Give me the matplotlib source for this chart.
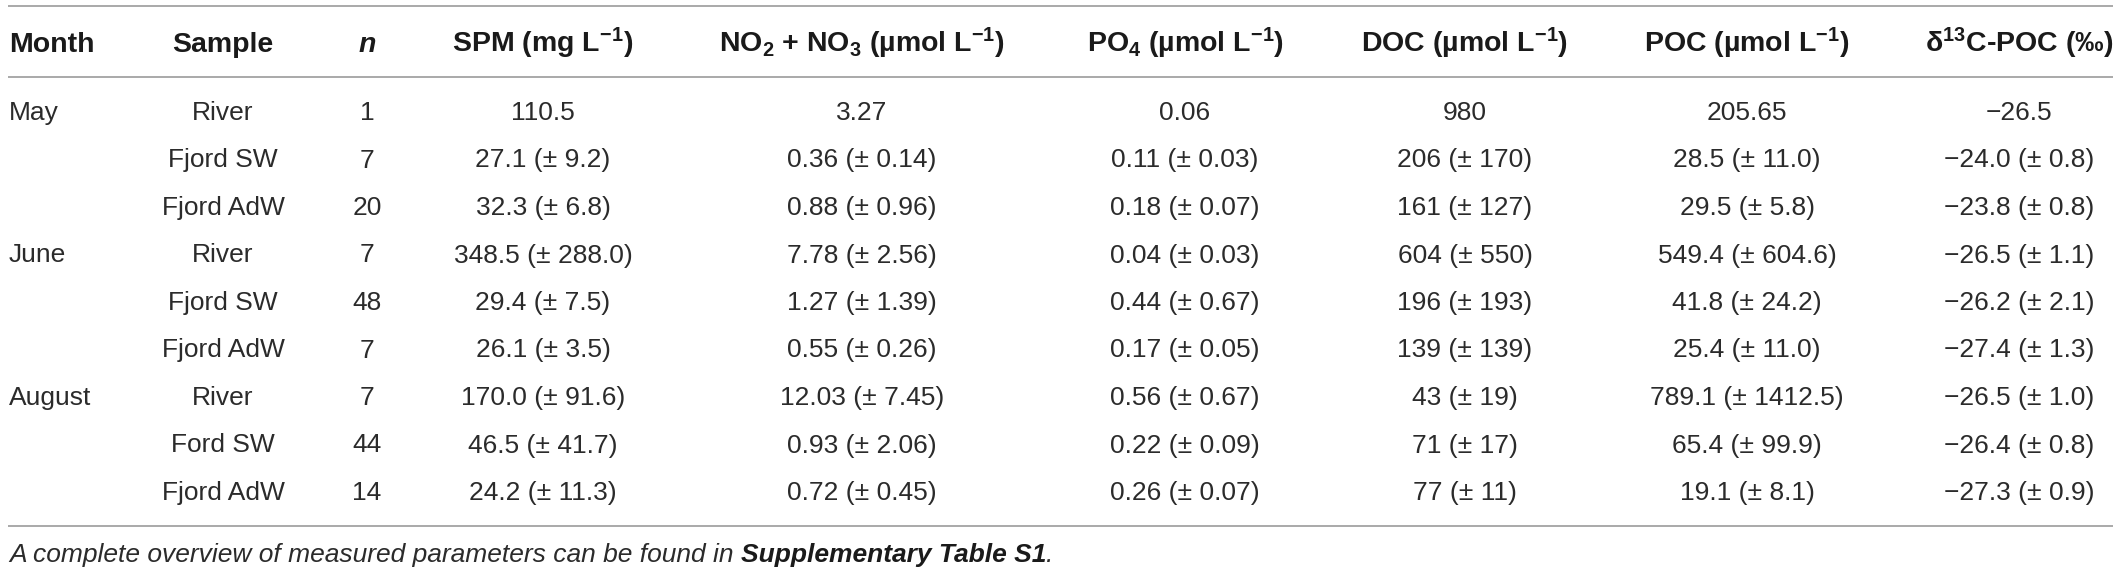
import matplotlib
matplotlib.use("Agg")
import matplotlib.pyplot as plt

# =====================
# Table data
# =====================

months = ["May", "", "", "June", "", "", "August", "", ""]
samples = ["River", "Fjord SW", "Fjord AdW", "River", "Fjord SW", "Fjord AdW",
           "River", "Ford SW", "Fjord AdW"]
n_vals = [1, 7, 20, 7, 48, 7, 7, 44, 14]
spm = ["110.5", "27.1 (± 9.2)", "32.3 (± 6.8)", "348.5 (± 288.0)", "29.4 (± 7.5)",
       "26.1 (± 3.5)", "170.0 (± 91.6)", "46.5 (± 41.7)", "24.2 (± 11.3)"]
nox = ["3.27", "0.36 (± 0.14)", "0.88 (± 0.96)", "7.78 (± 2.56)", "1.27 (± 1.39)",
       "0.55 (± 0.26)", "12.03 (± 7.45)", "0.93 (± 2.06)", "0.72 (± 0.45)"]
po4 = ["0.06", "0.11 (± 0.03)", "0.18 (± 0.07)", "0.04 (± 0.03)", "0.44 (± 0.67)",
       "0.17 (± 0.05)", "0.56 (± 0.67)", "0.22 (± 0.09)", "0.26 (± 0.07)"]
doc = ["980", "206 (± 170)", "161 (± 127)", "604 (± 550)", "196 (± 193)",
       "139 (± 139)", "43 (± 19)", "71 (± 17)", "77 (± 11)"]
poc = ["205.65", "28.5 (± 11.0)", "29.5 (± 5.8)", "549.4 (± 604.6)", "41.8 (± 24.2)",
       "25.4 (± 11.0)", "789.1 (± 1412.5)", "65.4 (± 99.9)", "19.1 (± 8.1)"]
d13c = ["−26.5", "−24.0 (± 0.8)", "−23.8 (± 0.8)", "−26.5 (± 1.1)", "−26.2 (± 2.1)",
        "−27.4 (± 1.3)", "−26.5 (± 1.0)", "−26.4 (± 0.8)", "−27.3 (± 0.9)"]

headers = ["Month", "Sample", "n", "SPM (mg L$^{-1}$)",
           "NO$_2$ + NO$_3$ (µmol L$^{-1}$)", "PO$_4$ (µmol L$^{-1}$)",
           "DOC (µmol L$^{-1}$)", "POC (µmol L$^{-1}$)", "δ$^{13}$C-POC (‰)"]
header_italic = [False, False, True, False, False, False, False, False, False]

note_text = "A complete overview of measured parameters can be found in "
note_bold = "Supplementary Table S1"

# =====================
# Layout
# =====================

W, H = 2120, 576
col_x = [9, 223, 367, 543, 862, 1185, 1465, 1747, 2019]
col_ha = ["left"] + ["center"] * 8
header_base = 52
row_base0 = 120
row_step = 47.5

plt.rcParams["font.family"] = ["Liberation Sans", "DejaVu Sans"]
plt.rcParams["mathtext.fontset"] = "custom"
plt.rcParams["mathtext.default"] = "regular"

fig = plt.figure(figsize=(W / 100, H / 100), dpi=100)
ax = fig.add_axes([0, 0, 1, 1])
ax.set_xlim(0, W)
ax.set_ylim(H, 0)
ax.axis("off")

line_color = "#a3a3a3"
ax.hlines([6, 77, 526], 8, 2113, color=line_color, lw=1.3)

for x, ha, label, it in zip(col_x, col_ha, headers, header_italic):
    ax.text(x, header_base, label, ha=ha, va="baseline", fontsize=20.5,
            fontweight="bold", style="italic" if it else "normal", color="#1a1a1a")

columns = [months, samples, [str(v) for v in n_vals], spm, nox, po4, doc, poc, d13c]
body_color = "#2b2b2b"
for i in range(len(samples)):
    y = row_base0 + i * row_step
    for x, ha, col in zip(col_x, col_ha, columns):
        if col[i]:
            ax.text(x, y, col[i], ha=ha, va="baseline", fontsize=19,
                    color=body_color)

# footnote: italic part + bold italic part + period
renderer = fig.canvas.get_renderer()
t1 = ax.text(9, 562, note_text, ha="left", va="baseline", fontsize=19,
             style="italic", color=body_color)
bb = t1.get_window_extent(renderer=renderer)
t2 = fig.text(bb.x1 / W, 1 - 562 / H, note_bold, ha="left", va="baseline",
              fontsize=19, style="italic", fontweight="bold", color="#1a1a1a")
bb2 = t2.get_window_extent(renderer=renderer)
fig.text(bb2.x1 / W, 1 - 562 / H, ".", ha="left", va="baseline", fontsize=19,
         style="italic", color=body_color)

fig.savefig("out.png", dpi=100)
